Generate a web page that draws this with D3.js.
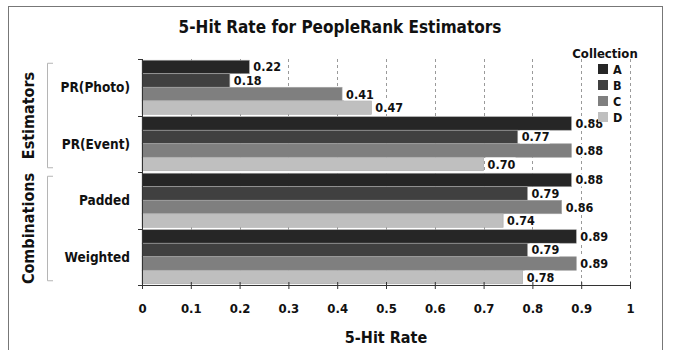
<!DOCTYPE html>
<html>
<head>
<meta charset="utf-8">
<script src="https://cdn.jsdelivr.net/npm/d3@7"></script>
<style>
  html, body { margin: 0; padding: 0; background: #fff; }
  svg { display: block; }
  text { font-family: "DejaVu Sans Condensed", "DejaVu Sans", sans-serif; font-weight: bold; fill: #111; }
</style>
</head>
<body>
<svg id="chart" width="675" height="350"></svg>
<script>
// Estimators and their combinations, evaluated on four photo collections
const categories = ["PR(Photo)", "PR(Event)", "Padded", "Weighted"];
const collections = ["A", "B", "C", "D"];
const seriesA = [0.22, 0.88, 0.88, 0.89];
const seriesB = [0.18, 0.77, 0.79, 0.79];
const seriesC = [0.41, 0.88, 0.86, 0.89];
const seriesD = [0.47, 0.70, 0.74, 0.78];
const xTicks = [0, 0.1, 0.2, 0.3, 0.4, 0.5, 0.6, 0.7, 0.8, 0.9, 1];
const groups = [
  { name: "Estimators", members: ["PR(Photo)", "PR(Event)"] },
  { name: "Combinations", members: ["Padded", "Weighted"] }
];

const series = [seriesA, seriesB, seriesC, seriesD];
const colors = ["#262626", "#404040", "#7f7f7f", "#bfbfbf"];

const svg = d3.select("#chart");
const margin = { left: 142, right: 45, top: 59, bottom: 65 };
const W = 675, H = 350;

// frame around the whole figure
svg.append("rect")
  .attr("x", 8.5).attr("y", 6.5)
  .attr("width", 654).attr("height", 350)
  .attr("fill", "none").attr("stroke", "#777").attr("stroke-width", 1);

const x = d3.scaleLinear().domain([0, 1]).range([margin.left, W - margin.right]);
const y0 = d3.scaleBand().domain(categories).range([margin.top, H - margin.bottom]).paddingInner(0).paddingOuter(0);
const y1 = d3.scaleBand().domain(collections).range([0, y0.bandwidth()]).paddingOuter(0.09).paddingInner(0);
const color = d3.scaleOrdinal().domain(collections).range(colors);

// dashed vertical grid
svg.append("g")
  .selectAll("line")
  .data(xTicks.filter(t => t > 0))
  .join("line")
  .attr("x1", d => Math.round(x(d)) + 0.5).attr("x2", d => Math.round(x(d)) + 0.5)
  .attr("y1", margin.top).attr("y2", H - margin.bottom)
  .attr("stroke", "#9a9a9a").attr("stroke-width", 1).attr("stroke-dasharray", "3,3");

// bars
const rows = categories.map((c, i) => ({ cat: c, values: collections.map((k, j) => ({ key: k, value: series[j][i] })) }));
const gRows = svg.append("g").selectAll("g").data(rows).join("g")
  .attr("transform", d => `translate(0,${y0(d.cat)})`);

gRows.selectAll("rect")
  .data(d => d.values)
  .join("rect")
  .attr("x", x(0))
  .attr("y", d => y1(d.key))
  .attr("width", d => x(d.value) - x(0))
  .attr("height", y1.bandwidth())
  .attr("fill", d => color(d.key))
  .attr("stroke", "#a6a6a6").attr("stroke-width", 0.6);

// value labels with white backing
const labels = gRows.selectAll("g.lab")
  .data(d => d.values)
  .join("g").attr("class", "lab")
  .attr("transform", d => `translate(${x(d.value) + 2},${y1(d.key) + y1.bandwidth() / 2})`);
labels.append("rect")
  .attr("x", 0).attr("y", -6.5).attr("width", 30).attr("height", 13)
  .attr("fill", "#fff");
labels.append("text")
  .attr("x", 2).attr("dy", "0.36em")
  .attr("font-size", 12.5)
  .text(d => d.value.toFixed(2));

// x axis
const xAxis = svg.append("g")
  .attr("transform", `translate(0,${H - margin.bottom})`)
  .call(d3.axisBottom(x).tickValues(xTicks).tickFormat(d3.format("")).tickSize(4).tickPadding(15));
xAxis.select(".domain").attr("stroke", "#333");
xAxis.selectAll(".tick line").attr("stroke", "#333").attr("y1", -3);
xAxis.selectAll(".tick text")
  .attr("font-family", "DejaVu Sans Condensed, DejaVu Sans, sans-serif")
  .attr("font-weight", "bold").attr("font-size", 13).attr("fill", "#111");

// y axis with ticks on group boundaries
svg.append("line")
  .attr("x1", x(0) + 0.5).attr("x2", x(0) + 0.5)
  .attr("y1", margin.top).attr("y2", H - margin.bottom)
  .attr("stroke", "#333");
const bounds = categories.map(c => y0(c)).concat([y0.range()[1]]);
svg.append("g").selectAll("line").data(bounds).join("line")
  .attr("x1", x(0) - 4).attr("x2", x(0))
  .attr("y1", d => Math.round(d) + 0.5).attr("y2", d => Math.round(d) + 0.5)
  .attr("stroke", "#333");

// category labels
svg.append("g").selectAll("text").data(categories).join("text")
  .attr("x", 130)
  .attr("y", d => y0(d) + y0.bandwidth() / 2)
  .attr("dy", "0.36em")
  .attr("text-anchor", "end")
  .attr("font-size", 13.5)
  .text(d => d);

// group brackets and rotated group names
groups.forEach(g => {
  const top = y0(g.members[0]) + y0.bandwidth() / 2;
  const bot = y0(g.members[g.members.length - 1]) + y0.bandwidth() / 2;
  const mid = (y0(g.members[0]) + y0(g.members[g.members.length - 1]) + y0.bandwidth()) / 2;
  svg.append("path")
    .attr("d", `M53,${top - 24}H47.5V${bot + 24}H53`)
    .attr("fill", "none").attr("stroke", "#b5b5b5").attr("stroke-width", 1);
  svg.append("text")
    .attr("transform", `translate(34,${mid}) rotate(-90)`)
    .attr("text-anchor", "middle")
    .attr("font-size", 16)
    .text(g.name);
});

// title and axis title
svg.append("text")
  .attr("x", 340).attr("y", 33)
  .attr("text-anchor", "middle").attr("font-size", 17)
  .text("5-Hit Rate for PeopleRank Estimators");
svg.append("text")
  .attr("x", 386).attr("y", 343)
  .attr("text-anchor", "middle").attr("font-size", 16)
  .text("5-Hit Rate");

// legend
const legend = svg.append("g");
legend.append("text")
  .attr("x", 605).attr("y", 58)
  .attr("text-anchor", "middle").attr("font-size", 13)
  .text("Collection");
const items = legend.selectAll("g.item").data(collections).join("g").attr("class", "item")
  .attr("transform", (d, i) => `translate(598,${64 + i * 16})`);
items.append("rect").attr("width", 10).attr("height", 10).attr("fill", d => color(d));
items.append("text").attr("x", 15).attr("y", 5).attr("dy", "0.36em").attr("font-size", 12.5).text(d => d);
</script>
</body>
</html>
